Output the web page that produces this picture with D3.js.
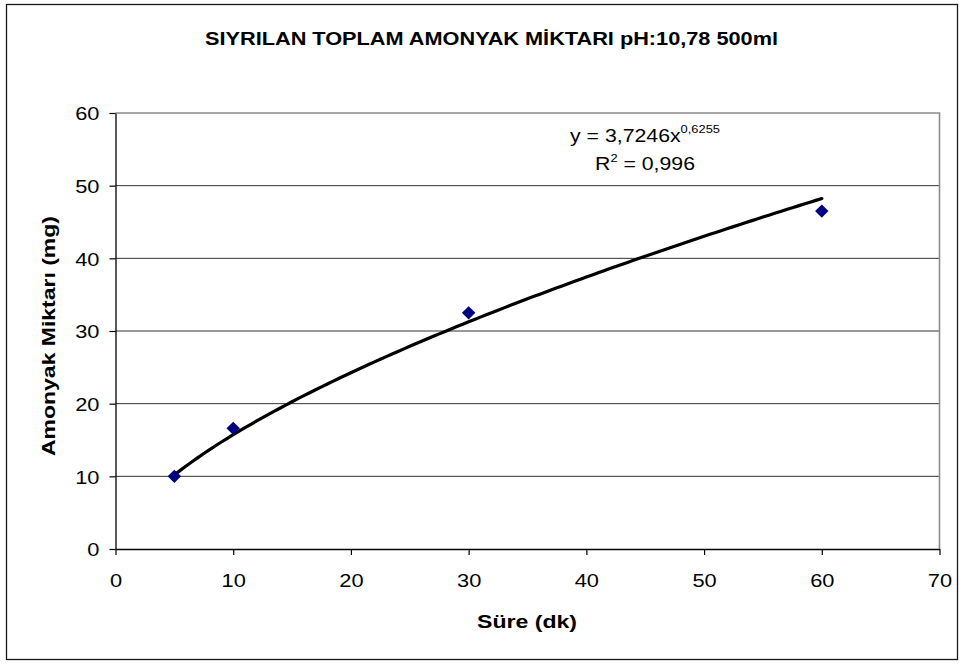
<!DOCTYPE html>
<html>
<head>
<meta charset="utf-8">
<script src="https://cdn.jsdelivr.net/npm/d3@7"></script>
<style>
  body { margin: 0; background: #fff; }
  svg text { font-family: Arial, "Liberation Sans", sans-serif; fill: #000; }
</style>
</head>
<body>
<svg id="chart" width="965" height="666"></svg>
<script>
// Measured stripping data: time (min) vs. ammonia removed (mg)
const times   = [5, 10, 30, 60];
const ammonia = [10, 16.6, 32.5, 46.5];

// Axis ticks
const xTicks = [0, 10, 20, 30, 40, 50, 60, 70];
const yTicks = [0, 10, 20, 30, 40, 50, 60];

// Power trendline y = a * x^b and its R²
const fitCoef = 3.7246;
const fitExp  = 0.6255;
const fitR2   = "0,996";
const fitRange = [5, 60];

const chartTitle = "SIYRILAN TOPLAM AMONYAK MİKTARI pH:10,78 500ml";
const xTitle = "Süre (dk)";
const yTitle = "Amonyak Miktarı (mg)";

const svg = d3.select("#chart");
const W = 965, H = 666;
const plot = { left: 115.5, right: 939.5, top: 113, bottom: 549 };

// stretch text horizontally (the chart uses a wide glyph rendering)
function widen(sel, k) {
  sel.each(function () {
    const w = this.getComputedTextLength();
    d3.select(this).attr("textLength", w * k).attr("lengthAdjust", "spacingAndGlyphs");
  });
}

svg.append("rect").attr("width", W).attr("height", H).attr("fill", "#fff");
// outer chart frame
svg.append("rect")
  .attr("x", 6.5).attr("y", 4.5).attr("width", 951).attr("height", 655)
  .attr("fill", "none").attr("stroke", "#1a1a1a").attr("stroke-width", 1.3);

const x = d3.scaleLinear().domain([0, 70]).range([plot.left, plot.right]);
const y = d3.scaleLinear().domain([0, 60]).range([plot.bottom, plot.top]);

// horizontal gridlines
svg.append("g").selectAll("line")
  .data(yTicks.filter(v => v > 0 && v < 60))
  .join("line")
  .attr("x1", plot.left).attr("x2", plot.right)
  .attr("y1", d => y(d)).attr("y2", d => y(d))
  .attr("stroke", "#333").attr("stroke-width", 1);

// plot area frame: grey top and right edges
svg.append("path")
  .attr("d", `M${plot.left},${plot.top}H${plot.right}V${plot.bottom}`)
  .attr("fill", "none").attr("stroke", "#8c8c8c").attr("stroke-width", 1.6);

// axes
const gx = svg.append("g").attr("transform", `translate(0,${plot.bottom})`)
  .call(d3.axisBottom(x).tickValues(xTicks).tickSize(6).tickSizeOuter(0).tickFormat(d3.format("d")));
const gy = svg.append("g").attr("transform", `translate(${plot.left},0)`)
  .call(d3.axisLeft(y).tickValues(yTicks).tickSize(6).tickSizeOuter(0).tickPadding(10).tickFormat(d3.format("d")));

[gx, gy].forEach(g => {
  g.select(".domain").attr("stroke", "#000").attr("stroke-width", 1.3);
  g.selectAll(".tick line").attr("stroke", "#000").attr("stroke-width", 1.2);
  g.selectAll(".tick text").attr("font-size", 18.5).attr("fill", "#000")
    .attr("font-family", "Arial, 'Liberation Sans', sans-serif");
});
gx.selectAll(".tick text").attr("y", 38).attr("dy", null);
gy.selectAll(".tick text").attr("dy", "0.36em");
widen(gx.selectAll(".tick text"), 1.18);
widen(gy.selectAll(".tick text"), 1.18);

// trendline
const fitPts = d3.range(fitRange[0], fitRange[1] + 0.001, 0.5).map(t => [t, fitCoef * Math.pow(t, fitExp)]);
svg.append("path")
  .datum(fitPts)
  .attr("d", d3.line().x(d => x(d[0])).y(d => y(d[1])))
  .attr("fill", "none").attr("stroke", "#000").attr("stroke-width", 3.2)
  .attr("stroke-linejoin", "round").attr("stroke-linecap", "round");

// data markers (diamonds)
svg.append("g").selectAll("path")
  .data(times.map((t, i) => [t, ammonia[i]]))
  .join("path")
  .attr("transform", d => `translate(${x(d[0])},${y(d[1])}) rotate(45)`)
  .attr("d", d3.symbol().type(d3.symbolSquare).size(90))
  .attr("fill", "#000080");

// trendline equation
const eq = svg.append("g").attr("transform", "translate(645,0) scale(1.12,1)");
const eq1 = eq.append("text").attr("x", 0).attr("y", 142).attr("text-anchor", "middle").attr("font-size", 19);
eq1.append("tspan").text(`y = ${String(fitCoef).replace(".", ",")}x`);
eq1.append("tspan").attr("dy", -9).attr("font-size", 11.5).text(String(fitExp).replace(".", ","));
const eq2 = eq.append("text").attr("x", 0).attr("y", 170).attr("text-anchor", "middle").attr("font-size", 19);
eq2.append("tspan").text("R");
eq2.append("tspan").attr("dy", -8).attr("font-size", 11.5).text("2");
eq2.append("tspan").attr("dy", 8).text(` = ${fitR2}`);

// titles
svg.append("text")
  .attr("x", 491.5).attr("y", 45).attr("text-anchor", "middle")
  .attr("font-size", 18.5).attr("font-weight", "bold")
  .attr("textLength", 573).attr("lengthAdjust", "spacingAndGlyphs")
  .text(chartTitle);

svg.append("text")
  .attr("x", 527).attr("y", 628).attr("text-anchor", "middle")
  .attr("font-size", 18).attr("font-weight", "bold")
  .attr("textLength", 100).attr("lengthAdjust", "spacingAndGlyphs")
  .text(xTitle);

svg.append("text")
  .attr("transform", "translate(55,336) rotate(-90)")
  .attr("text-anchor", "middle")
  .attr("font-size", 18).attr("font-weight", "bold")
  .attr("textLength", 240).attr("lengthAdjust", "spacingAndGlyphs")
  .text(yTitle);
</script>
</body>
</html>
